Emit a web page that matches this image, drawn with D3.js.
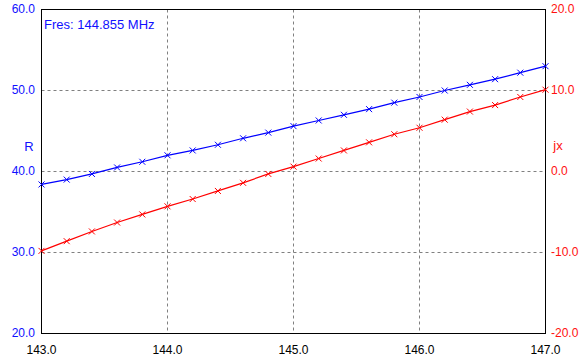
<!DOCTYPE html>
<html>
<head>
<meta charset="utf-8">
<script src="https://cdn.jsdelivr.net/npm/d3@7"></script>
<style>
    body { margin: 0; background: #fff; }
    svg { display: block; font-family: "Liberation Sans", Arial, sans-serif; font-size: 12px; }
</style>
</head>
<body>
<svg id="chart"></svg>
<script>
const freqs = [143.0, 143.2, 143.4, 143.6, 143.8, 144.0, 144.2, 144.4, 144.6, 144.8, 145.0,
               145.2, 145.4, 145.6, 145.8, 146.0, 146.2, 146.4, 146.6, 146.8, 147.0];
const resistance = [38.4, 39.0, 39.7, 40.5, 41.2, 42.0, 42.6, 43.3, 44.1, 44.8, 45.6,
                    46.3, 47.0, 47.7, 48.5, 49.2, 50.0, 50.7, 51.4, 52.2, 53.0];
const reactance = [-9.8, -8.6, -7.4, -6.3, -5.3, -4.3, -3.4, -2.4, -1.4, -0.3, 0.6,
                   1.6, 2.6, 3.6, 4.6, 5.4, 6.4, 7.4, 8.2, 9.2, 10.1];
const xTicks = [143, 144, 145, 146, 147];
const rTicks = [20, 30, 40, 50, 60];
const jxTicks = [-20, -10, 0, 10, 20];
const resonanceLabel = "Fres: 144.855 MHz";

document.addEventListener('DOMContentLoaded', function () {
    const width = 586, height = 362;
    const left = 41, right = 545, top = 9, bottom = 333;

    const svg = d3.select("#chart")
        .attr("width", width)
        .attr("height", height);

    const x = d3.scaleLinear().domain([143, 147]).range([left, right]);
    const yR = d3.scaleLinear().domain([20, 60]).range([bottom, top]);
    const yX = d3.scaleLinear().domain([-20, 20]).range([bottom, top]);

    const g = svg.append("g").attr("transform", "translate(0.5,0.5)");

    // dashed grid
    g.selectAll(".hgrid")
        .data(rTicks.slice(1, -1))
        .enter().append("line")
        .attr("x1", left).attr("x2", right)
        .attr("y1", d => yR(d)).attr("y2", d => yR(d))
        .attr("stroke", "#808080")
        .attr("stroke-dasharray", "3,3");

    g.selectAll(".vgrid")
        .data(xTicks.slice(1, -1))
        .enter().append("line")
        .attr("y1", top).attr("y2", bottom)
        .attr("x1", d => x(d)).attr("x2", d => x(d))
        .attr("stroke", "#808080")
        .attr("stroke-dasharray", "3,3");

    g.append("rect")
        .attr("x", left).attr("y", top)
        .attr("width", right - left).attr("height", bottom - top)
        .attr("fill", "none")
        .attr("stroke", "#000");

    // axes, drawn with d3 axis but with the domain and tick lines hidden
    const bottomAxis = svg.append("g")
        .attr("transform", `translate(0,${bottom})`)
        .call(d3.axisBottom(x).tickValues(xTicks).tickFormat(d3.format(".1f")).tickSize(0).tickPadding(12));
    const leftAxis = svg.append("g")
        .attr("transform", `translate(${left},0)`)
        .call(d3.axisLeft(yR).tickValues(rTicks).tickFormat(d3.format(".1f")).tickSize(0).tickPadding(6));
    const rightAxis = svg.append("g")
        .attr("transform", `translate(${right},0)`)
        .call(d3.axisRight(yX).tickValues(jxTicks).tickFormat(d3.format(".1f")).tickSize(0).tickPadding(6));

    [bottomAxis, leftAxis, rightAxis].forEach(a => {
        a.select(".domain").remove();
        a.selectAll("text").attr("font-family", "Liberation Sans, Arial, sans-serif").attr("font-size", 12);
    });
    bottomAxis.selectAll("text").attr("fill", "#000");
    leftAxis.selectAll("text").attr("fill", "#1010ff");
    rightAxis.selectAll("text").attr("fill", "#ff1010").text(d => d3.format(".1f")(d).replace("−", "-"));
    leftAxis.selectAll("text").text(d => d3.format(".1f")(d));

    svg.append("text")
        .attr("x", 29).attr("y", 151)
        .attr("text-anchor", "middle")
        .attr("font-size", 13)
        .attr("fill", "#1010ff")
        .text("R");

    svg.append("text")
        .attr("x", 558).attr("y", 150)
        .attr("text-anchor", "middle")
        .attr("font-size", 13)
        .attr("fill", "#ff1010")
        .text("jx");

    svg.append("text")
        .attr("x", 44).attr("y", 29)
        .attr("font-size", 13)
        .attr("fill", "#1010ff")
        .text(resonanceLabel);

    const series = [
        { values: resistance, y: yR, color: "#0000ff" },
        { values: reactance, y: yX, color: "#ff0000" }
    ];

    series.forEach(s => {
        const pts = freqs.map((f, i) => [x(f), s.y(s.values[i])]);

        g.append("path")
            .attr("d", d3.line()(pts))
            .attr("fill", "none")
            .attr("stroke", s.color)
            .attr("stroke-width", 1.2);

        const m = 3;
        g.selectAll(null)
            .data(pts)
            .enter().append("path")
            .attr("d", p => `M${p[0] - m},${p[1] - m}L${p[0] + m},${p[1] + m}M${p[0] - m},${p[1] + m}L${p[0] + m},${p[1] - m}`)
            .attr("stroke", s.color)
            .attr("stroke-width", 1);
    });
});
</script>
</body>
</html>
